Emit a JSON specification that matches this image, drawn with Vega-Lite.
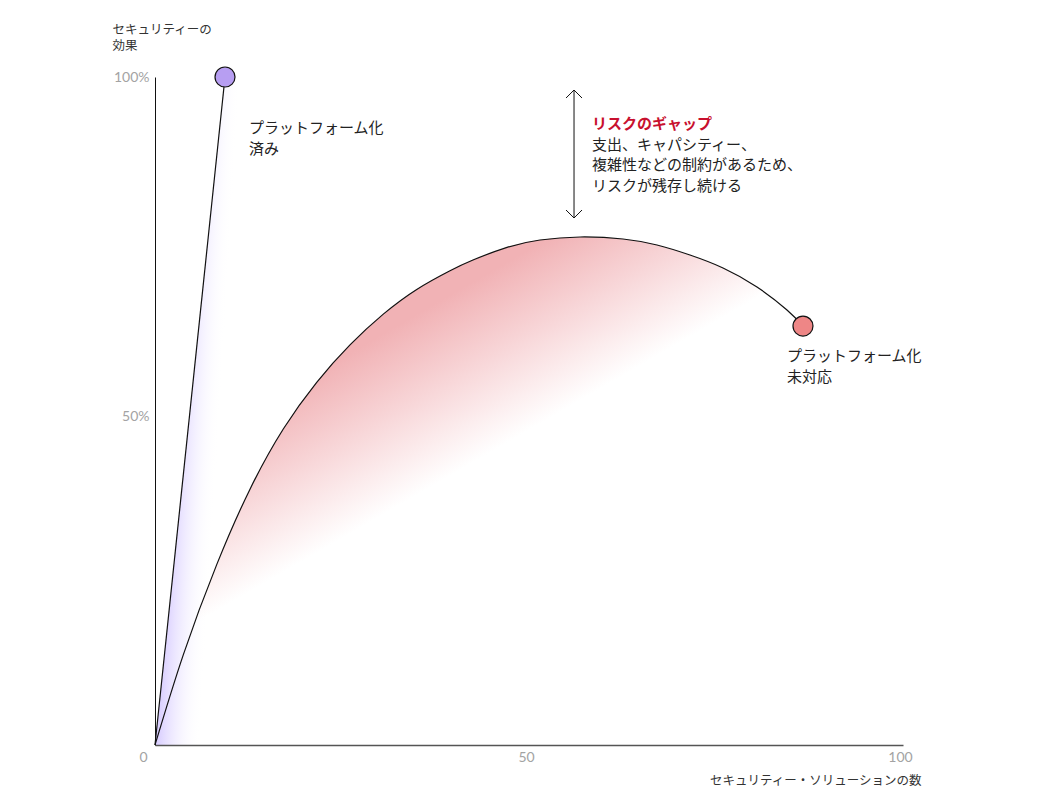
{
  "$schema": "https://vega.github.io/schema/vega-lite/v6.json",
  "width": 748,
  "height": 668,
  "autosize": {"type": "none"},
  "padding": {"left": 155, "top": 77, "right": 137, "bottom": 59},
  "background": "#ffffff",
  "config": {
    "view": {"stroke": null},
    "font": "Noto Sans CJK JP",
    "axis": {"grid": false, "ticks": false}
  },
  "datasets": {
    "curve": [
      {"x": 0, "y": 0},
      {"x": 3.78, "y": 13.5},
      {"x": 8.25, "y": 27.0},
      {"x": 12.7, "y": 38.3},
      {"x": 17.15, "y": 47.3},
      {"x": 21.62, "y": 54.3},
      {"x": 26.07, "y": 59.9},
      {"x": 30.52, "y": 64.5},
      {"x": 34.99, "y": 68.2},
      {"x": 39.44, "y": 71.0},
      {"x": 42.51, "y": 72.6},
      {"x": 47.06, "y": 74.5},
      {"x": 51.47, "y": 75.6},
      {"x": 56.82, "y": 76.05},
      {"x": 62.57, "y": 75.75},
      {"x": 67.11, "y": 74.85},
      {"x": 71.52, "y": 73.35},
      {"x": 75.94, "y": 71.41},
      {"x": 80.48, "y": 68.56},
      {"x": 84.49, "y": 65.12},
      {"x": 86.63, "y": 62.72}
    ],
    "platform": [
      {"x": 0, "y": 0},
      {"x": 9.36, "y": 100}
    ],
    "band": [
      {"y": 0, "x": 0, "x2": 7},
      {"y": 100, "x": 9.36, "x2": 16.36}
    ],
    "dots": [
      {"x": 9.36, "y": 100, "k": "済み"},
      {"x": 86.63, "y": 62.72, "k": "未対応"}
    ],
    "gap": [
      {"x": 56.02, "y": 98.05, "y2": 78.89}
    ],
    "heads": [
      {"x": 56.02, "y": 98.05, "dir": "up"},
      {"x": 56.02, "y": 78.89, "dir": "down"}
    ],
    "notes": [
      {"x": 12.57, "y": 93.41, "label": ["プラットフォーム化", "済み"]},
      {"x": 84.49, "y": 59.28, "label": ["プラットフォーム化", "未対応"]},
      {"x": 58.42, "y": 90.9, "label": ["支出、キャパシティー、", "複雑性などの制約があるため、", "リスクが残存し続ける"]}
    ],
    "heading": [
      {"x": 58.42, "y": 94.0, "label": "リスクのギャップ"}
    ]
  },
  "layer": [
    {
      "data": {"name": "curve"},
      "mark": {
        "type": "area",
        "interpolate": "natural",
        "color": {
          "gradient": "linear",
          "x1": 0.38, "y1": 0.17, "x2": 0.55, "y2": 0.4,
          "stops": [
            {"offset": 0, "color": "#f1b2b5"},
            {"offset": 0.5, "color": "#f8d8da"},
            {"offset": 1, "color": "#ffffff"}
          ]
        }
      },
      "encoding": {
        "x": {
          "field": "x", "type": "quantitative",
          "scale": {"domain": [0, 100], "nice": false},
          "axis": {
            "zindex": 1,
            "values": [0, 50, 100],
            "title": "セキュリティー・ソリューションの数",
            "titleFontSize": 12.5,
            "titleFontWeight": "normal",
            "titleColor": "#333333",
            "titleAnchor": "end",
            "titleAlign": "right",
            "titleBaseline": "top",
            "titleX": 766,
            "titleY": 29,
            "domainColor": "#555555",
            "domainWidth": 1.3,
            "labelColor": "#a3a3a3",
            "labelFont": "Lato",
            "labelFontSize": 14,
            "labelPadding": 5,
            "labelAlign": {"condition": {"test": "datum.value == 0", "value": "right"}, "value": "center"},
            "labelOffset": {"condition": {"test": "datum.value == 0", "value": -8}, "value": -3}
          }
        },
        "y": {
          "field": "y", "type": "quantitative",
          "scale": {"domain": [0, 100], "nice": false},
          "axis": {
            "zindex": 1,
            "values": [50, 100],
            "labelExpr": "datum.value + '%'",
            "title": ["セキュリティーの", "効果"],
            "titleFontSize": 12.5,
            "titleFontWeight": "normal",
            "titleColor": "#333333",
            "titleAngle": 0,
            "titleAlign": "left",
            "titleBaseline": "top",
            "titleLineHeight": 16.5,
            "titleX": -43,
            "titleY": -54,
            "domainColor": "#111111",
            "domainWidth": 1,
            "labelColor": "#a3a3a3",
            "labelFont": "Lato",
            "labelFontSize": 14,
            "labelPadding": 6,
            "labelOffset": {"condition": {"test": "datum.value == 50", "value": 5}, "value": 0}
          }
        }
      }
    },
    {
      "data": {"name": "band"},
      "mark": {
        "type": "area",
        "orient": "horizontal",
        "color": {
          "gradient": "linear",
          "x1": 0, "y1": 1, "x2": 0.333, "y2": 1.11,
          "stops": [
            {"offset": 0, "color": "#d6caff"},
            {"offset": 1, "color": "rgba(255,255,255,0)"}
          ]
        }
      },
      "encoding": {
        "y": {"field": "y", "type": "quantitative"},
        "x": {"field": "x", "type": "quantitative"},
        "x2": {"field": "x2"}
      }
    },
    {
      "data": {"name": "curve"},
      "mark": {"type": "line", "interpolate": "natural", "color": "#111111", "strokeWidth": 1.2},
      "encoding": {
        "x": {"field": "x", "type": "quantitative"},
        "y": {"field": "y", "type": "quantitative"}
      }
    },
    {
      "data": {"name": "platform"},
      "mark": {"type": "line", "color": "#111111", "strokeWidth": 1.2},
      "encoding": {
        "x": {"field": "x", "type": "quantitative"},
        "y": {"field": "y", "type": "quantitative"}
      }
    },
    {
      "data": {"name": "gap"},
      "mark": {"type": "rule", "color": "#111111", "strokeWidth": 1},
      "encoding": {
        "x": {"field": "x", "type": "quantitative"},
        "y": {"field": "y", "type": "quantitative"},
        "y2": {"field": "y2"}
      }
    },
    {
      "data": {"name": "heads"},
      "mark": {"type": "point", "filled": false, "stroke": "#111111", "strokeWidth": 1, "size": 256, "opacity": 1},
      "encoding": {
        "x": {"field": "x", "type": "quantitative"},
        "y": {"field": "y", "type": "quantitative"},
        "shape": {
          "field": "dir", "type": "nominal", "legend": null,
          "scale": {"domain": ["up", "down"], "range": ["M-1,1L0,0L1,1", "M-1,-1L0,0L1,-1"]}
        }
      }
    },
    {
      "data": {"name": "dots"},
      "mark": {"type": "circle", "size": 400, "stroke": "#111111", "strokeWidth": 1.2, "opacity": 1},
      "encoding": {
        "x": {"field": "x", "type": "quantitative"},
        "y": {"field": "y", "type": "quantitative"},
        "color": {
          "field": "k", "type": "nominal", "legend": null,
          "scale": {"domain": ["済み", "未対応"], "range": ["#b79ef2", "#ee8686"]}
        }
      }
    },
    {
      "data": {"name": "notes"},
      "mark": {"type": "text", "align": "left", "baseline": "top", "fontSize": 15, "lineHeight": 20.7, "color": "#222222"},
      "encoding": {
        "x": {"field": "x", "type": "quantitative"},
        "y": {"field": "y", "type": "quantitative"},
        "text": {"field": "label"}
      }
    },
    {
      "data": {"name": "heading"},
      "mark": {"type": "text", "align": "left", "baseline": "top", "fontSize": 15, "fontWeight": "bold", "color": "#c8102e"},
      "encoding": {
        "x": {"field": "x", "type": "quantitative"},
        "y": {"field": "y", "type": "quantitative"},
        "text": {"field": "label"}
      }
    }
  ]
}
